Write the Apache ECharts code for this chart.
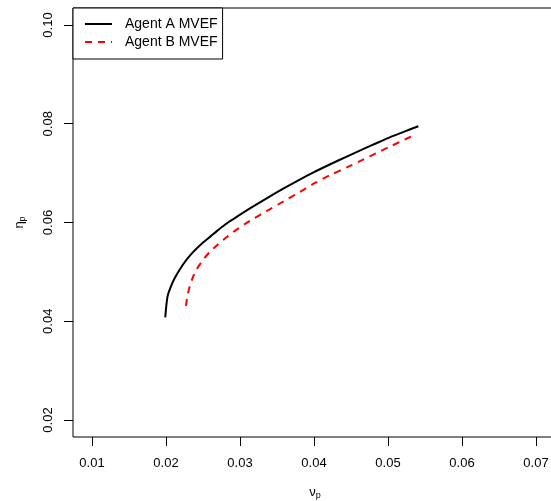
<!DOCTYPE html>
<html>
<head>
<meta charset="utf-8">
<script src="https://cdn.jsdelivr.net/npm/echarts@6/dist/echarts.min.js"></script>
<style>
  html, body { margin: 0; padding: 0; background: #fff; overflow: hidden; }
  #chart { width: 551px; height: 501px; }
</style>
</head>
<body>
<div id="chart"></div>
<script>
// values (variance, mean)
const varA = [0.0199, 0.0202, 0.0206, 0.0212, 0.0223, 0.0234, 0.0246, 0.0258, 0.0269, 0.0280, 0.0291, 0.0314, 0.0336, 0.0359, 0.0377, 0.0400, 0.0422, 0.0445, 0.0467, 0.0485, 0.0503, 0.0522, 0.0541];
const meanA = [0.0408, 0.0450, 0.0468, 0.0488, 0.0515, 0.0536, 0.0554, 0.0569, 0.0583, 0.0596, 0.0607, 0.0629, 0.0649, 0.0669, 0.0684, 0.0702, 0.0718, 0.0734, 0.0749, 0.0761, 0.0773, 0.0784, 0.0795];
const varB = [0.0227, 0.0229, 0.0232, 0.0236, 0.0241, 0.0250, 0.0259, 0.0269, 0.0280, 0.0291, 0.0314, 0.0336, 0.0359, 0.0381, 0.0400, 0.0422, 0.0445, 0.0467, 0.0485, 0.0503, 0.0520, 0.0538];
const meanB = [0.0431, 0.0452, 0.0470, 0.0488, 0.0504, 0.0524, 0.0540, 0.0554, 0.0568, 0.0581, 0.0604, 0.0623, 0.0643, 0.0662, 0.0679, 0.0696, 0.0712, 0.0728, 0.0741, 0.0754, 0.0766, 0.0779];
const xTicks = [0.01, 0.02, 0.03, 0.04, 0.05, 0.06, 0.07];
const yTicks = [0.02, 0.04, 0.06, 0.08, 0.10];
const seriesNames = ['Agent A MVEF', 'Agent B MVEF'];

const font = 'Liberation Sans, Arial, Helvetica, sans-serif';
const pairs = (xs, ys) => xs.map((x, i) => [x, ys[i]]);

const nameRich = {
  a: { fontSize: 13, color: '#000', fontFamily: font },
  s: { fontSize: 9, color: '#000', fontFamily: font, verticalAlign: 'bottom', padding: [7, 0, 0, 0] }
};

const chart = echarts.init(document.getElementById('chart'));
chart.setOption({
  backgroundColor: '#fff',
  animation: false,
  textStyle: { fontFamily: font },
  grid: {
    left: 73, top: 8, right: -6, bottom: 64,
    outerBoundsMode: 'none',
    show: true, borderColor: '#000', borderWidth: 1,
    containLabel: false
  },
  legend: {
    orient: 'vertical',
    left: 73, top: 8,
    padding: [9, 5, 10, 11],
    itemGap: 4, itemWidth: 27, itemHeight: 14,
    borderColor: '#000', borderWidth: 1, borderRadius: 0,
    backgroundColor: '#fff',
    itemStyle: { opacity: 0 },
    textStyle: { fontSize: 14, color: '#000', fontFamily: font, padding: [0, 0, 0, 8] },
    data: seriesNames
  },
  xAxis: {
    type: 'value',
    min: 0.00743, max: 0.07284,
    axisLine: { show: false },
    splitLine: { show: false },
    axisTick: {
      show: true, length: 9, inside: false,
      customValues: xTicks,
      lineStyle: { color: '#000', width: 1 }
    },
    axisLabel: {
      customValues: xTicks,
      margin: 20, fontSize: 13, color: '#000', fontFamily: font,
      formatter: v => v.toFixed(2)
    },
    name: '{a|ν}{s|p}',
    nameLocation: 'middle',
    nameGap: 47,
    nameTextStyle: { rich: nameRich }
  },
  yAxis: {
    type: 'value',
    min: 0.01656, max: 0.10344,
    axisLine: { show: false },
    splitLine: { show: false },
    axisTick: {
      show: true, length: 9, inside: false,
      customValues: yTicks,
      lineStyle: { color: '#000', width: 1 }
    },
    axisLabel: {
      customValues: yTicks,
      rotate: 90,
      margin: 18, fontSize: 13, color: '#000', fontFamily: font,
      formatter: v => v.toFixed(2)
    },
    name: '{a|η}{s|p}',
    nameLocation: 'middle',
    nameRotate: 90,
    nameGap: 46,
    nameTextStyle: { rich: nameRich }
  },
  series: [
    {
      name: seriesNames[0],
      type: 'line',
      data: pairs(varA, meanA),
      showSymbol: false, symbol: 'none',
      smooth: 0.3,
      lineStyle: { color: '#000', width: 2 },
      itemStyle: { color: '#000' }
    },
    {
      name: seriesNames[1],
      type: 'line',
      data: pairs(varB, meanB),
      showSymbol: false, symbol: 'none',
      smooth: 0.3,
      lineStyle: { color: '#ff0000', width: 2, type: [7, 6] },
      itemStyle: { color: '#ff0000' }
    }
  ]
});
</script>
</body>
</html>
